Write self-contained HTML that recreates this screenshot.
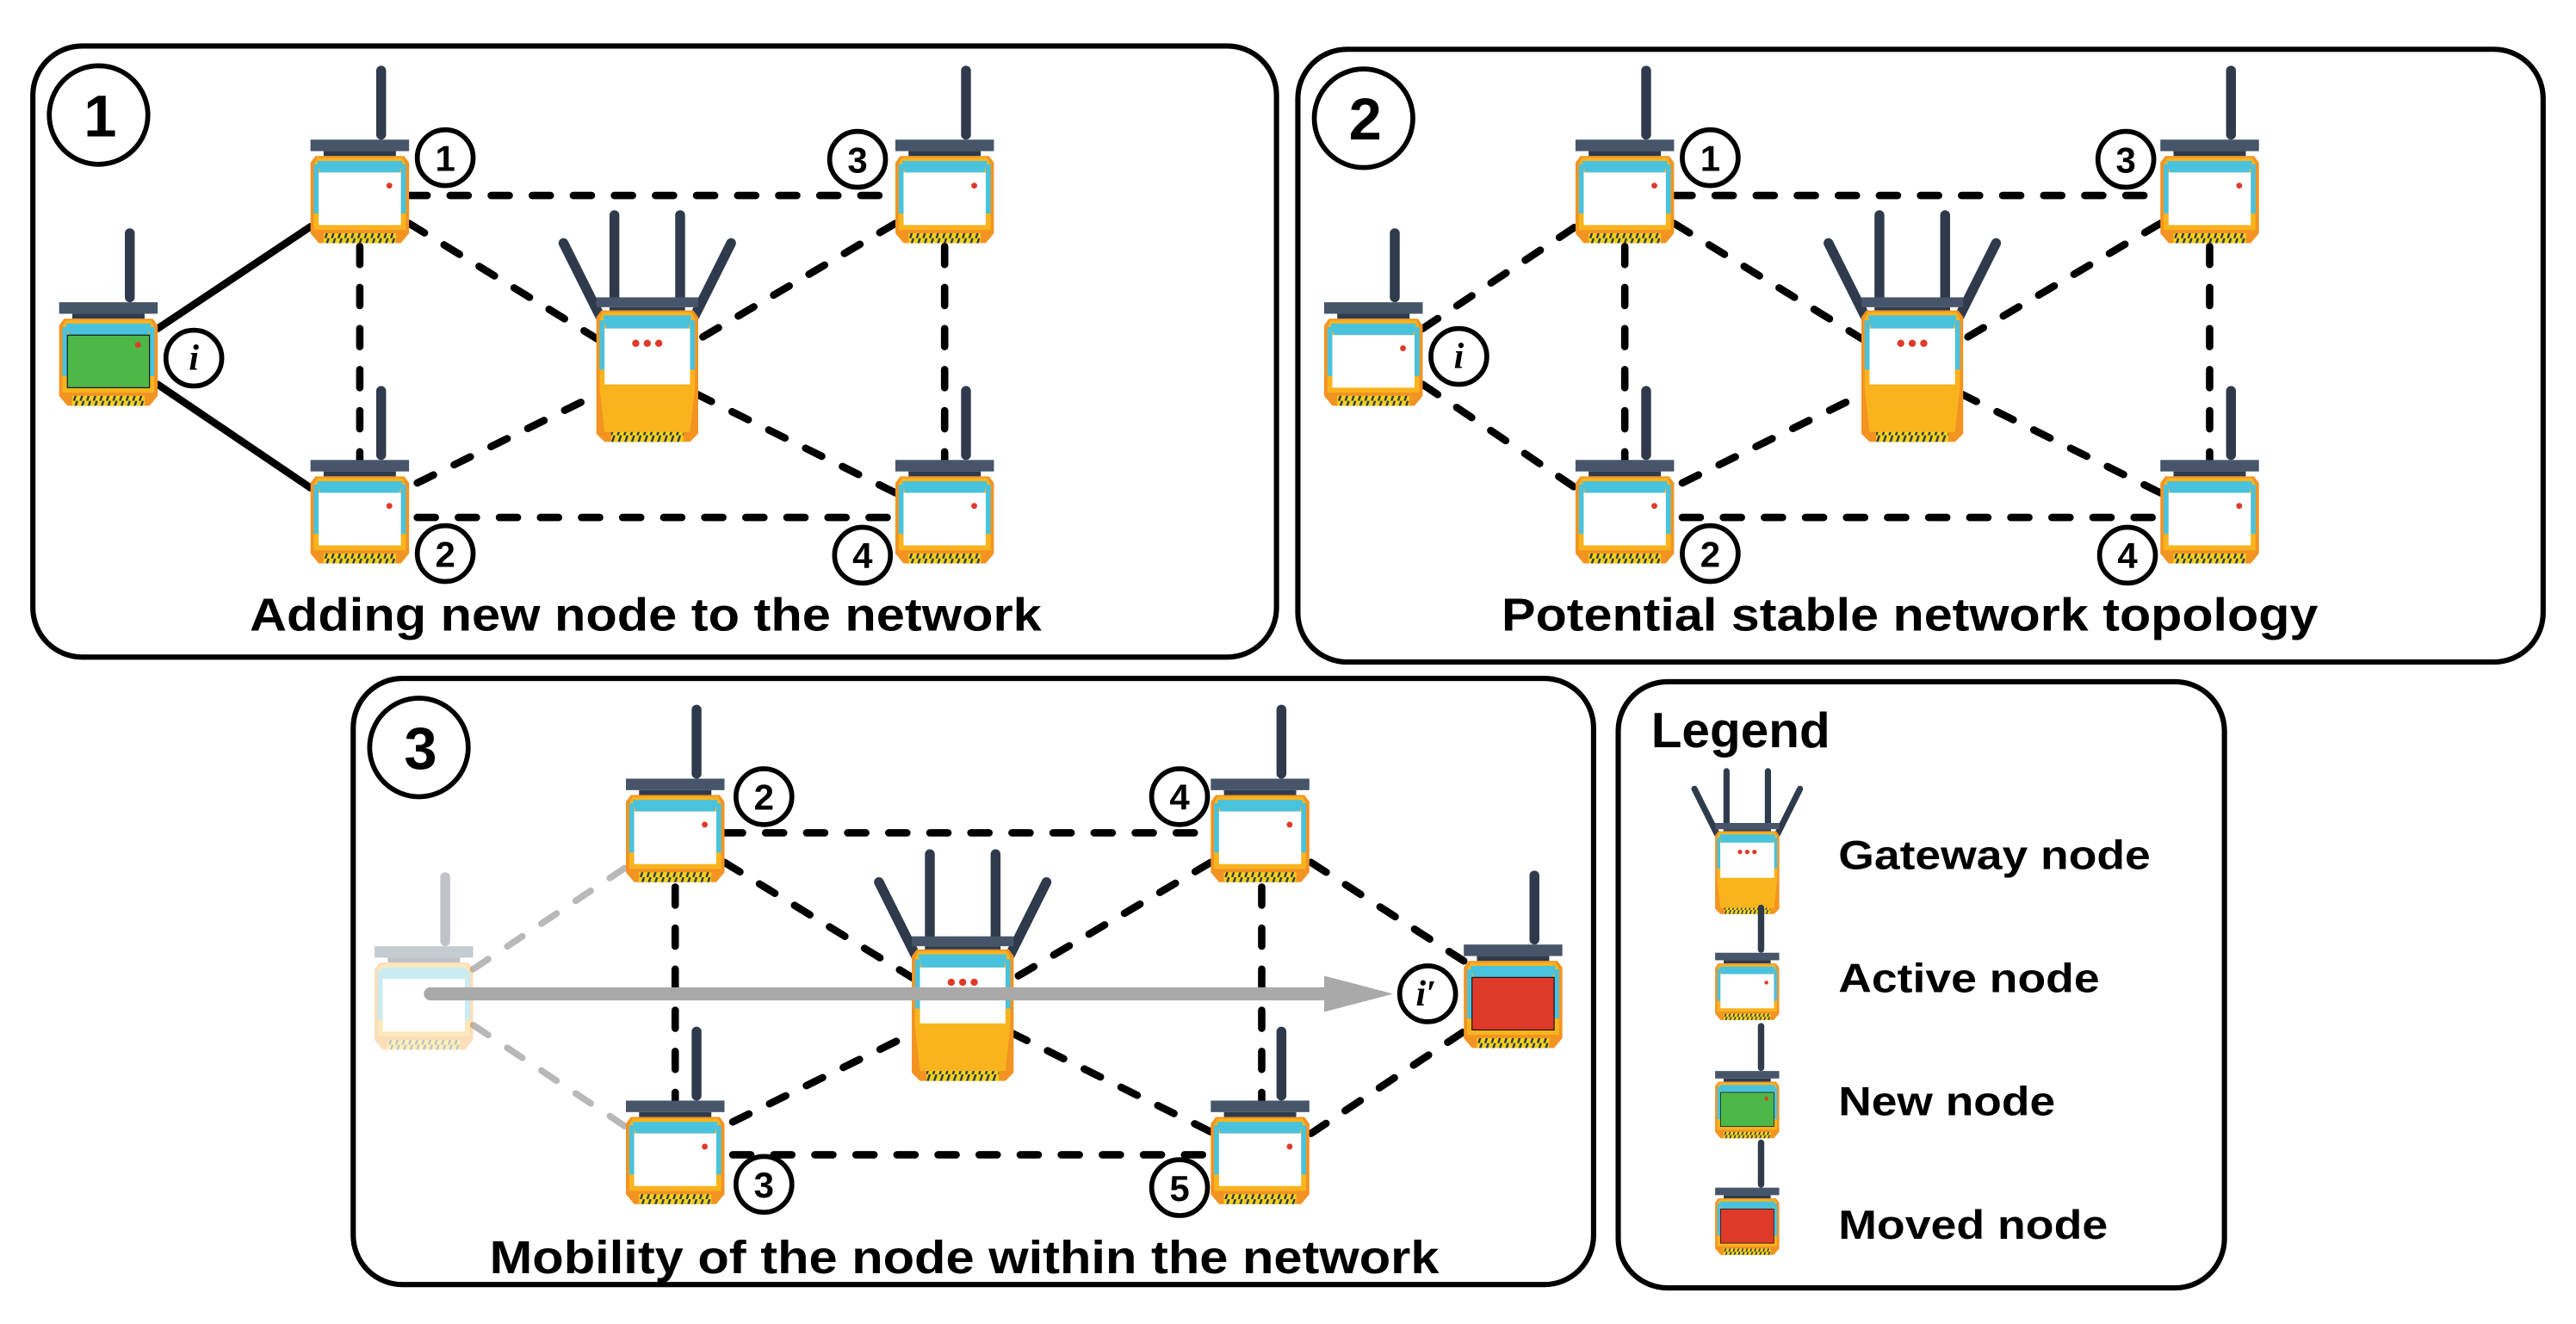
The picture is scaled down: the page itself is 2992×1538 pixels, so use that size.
<!DOCTYPE html>
<html><head><meta charset="utf-8"><style>
html,body{margin:0;padding:0;background:#fff;}
svg{display:block;}
text{font-family:"Liberation Sans",sans-serif;font-weight:bold;fill:#000;}
</style></head><body>
<svg width="2992" height="1538" viewBox="0 0 1568 806" xmlns="http://www.w3.org/2000/svg">
<defs>
<pattern id="hz" width="4" height="6" patternUnits="userSpaceOnUse">
<rect width="4" height="6" fill="#f5d21a"/><path d="M1,6 L3,0" stroke="#2f3b4c" stroke-width="1.3"/>
</pattern>
<g id="body">
<rect x="40" y="-45" width="6" height="45" rx="3" fill="#2f3b4c"/>
<rect x="0" y="0" width="60" height="7" fill="#465569"/>
<rect x="8" y="7" width="44" height="3" fill="#2f3b4c"/>
<path d="M3,10 L57,10 L60,14 L60,57 L55,63 L5,63 L0,57 L0,14 Z" fill="#f39322"/>
<path d="M4,11 L56,11 L58,15 L58,55 L5,55 L2,55 L2,15 Z" fill="#f9b41d"/>
<path d="M4,13 L56,13 L54,20 L6,20 Z" fill="#49c2de"/>
<rect x="2" y="15" width="3" height="30" fill="#49c2de"/>
<rect x="55" y="15" width="3" height="30" fill="#49c2de"/>
<rect x="8" y="57" width="44" height="6" fill="url(#hz)"/>
</g>
<g id="active"><use href="#body"/><rect x="5" y="20" width="50" height="32" fill="#fff"/><circle cx="48" cy="28" r="1.8" fill="#e03a2a"/></g>
<g id="newn"><use href="#body"/><rect x="5" y="20" width="50" height="32" fill="#4db748" stroke="#111" stroke-width="0.6"/><circle cx="48" cy="26" r="1.8" fill="#e03a2a"/></g>
<g id="moved"><use href="#body"/><rect x="5" y="20" width="50" height="32" fill="#dd3a2a" stroke="#111" stroke-width="0.6"/></g>
<g id="gw">
<line x1="11" y1="-50" x2="11" y2="2" stroke="#2f3b4c" stroke-width="6" stroke-linecap="round"/>
<line x1="51" y1="-50" x2="51" y2="2" stroke="#2f3b4c" stroke-width="6" stroke-linecap="round"/>
<line x1="-20" y1="-33" x2="2" y2="11" stroke="#2f3b4c" stroke-width="6" stroke-linecap="round"/>
<line x1="82" y1="-33" x2="60" y2="11" stroke="#2f3b4c" stroke-width="6" stroke-linecap="round"/>
<rect x="0" y="0" width="62" height="6" fill="#465569"/>
<rect x="8" y="6" width="46" height="2" fill="#2f3b4c"/>
<path d="M3,8 L59,8 L62,12 L62,83 L57,88 L5,88 L0,83 L0,12 Z" fill="#f39322"/>
<path d="M4,9 L58,9 L60,13 L60,55 L57,82 L5,82 L2,55 L2,13 Z" fill="#f9b41d"/>
<path d="M4,11 L58,11 L56,19 L6,19 Z" fill="#49c2de"/>
<rect x="2" y="14" width="3" height="30" fill="#49c2de"/>
<rect x="57" y="14" width="3" height="30" fill="#49c2de"/>
<rect x="5" y="19" width="52" height="34" fill="#fff"/>
<circle cx="24" cy="28" r="2.2" fill="#e03a2a"/><circle cx="31" cy="28" r="2.2" fill="#e03a2a"/><circle cx="38" cy="28" r="2.2" fill="#e03a2a"/>
<rect x="9" y="82" width="44" height="6" fill="url(#hz)"/>
</g>
</defs>

<!-- Panel boxes -->
<g fill="none" stroke="#000" stroke-width="3.2">
<rect x="20" y="28" width="757" height="372" rx="30"/>
<rect x="790" y="30" width="758" height="373" rx="30"/>
<rect x="215" y="413" width="755" height="369" rx="30"/>
<rect x="985" y="415" width="369" height="369" rx="30"/>
</g>

<!-- Panel 1 lines -->
<g stroke="#000" stroke-width="4.5" stroke-linecap="round" fill="none">
<line x1="96" y1="200" x2="189" y2="138"/>
<line x1="96" y1="234" x2="189" y2="297"/>
<g stroke-dasharray="11 14">
<line x1="249" y1="119" x2="545" y2="119"/>
<line x1="254" y1="315" x2="545" y2="315"/>
<line x1="219" y1="150" x2="219" y2="282"/>
<line x1="575" y1="150" x2="575" y2="282"/>
<line x1="249" y1="136" x2="394" y2="225"/>
<line x1="254" y1="294" x2="394" y2="225"/>
<line x1="545" y1="136" x2="394" y2="225"/>
<line x1="545" y1="300" x2="394" y2="225"/>
</g>
</g>
<!-- Panel 2 lines -->
<g stroke="#000" stroke-width="4.5" stroke-linecap="round" fill="none" stroke-dasharray="11 14">
<line x1="866" y1="200" x2="959" y2="138"/>
<line x1="866" y1="234" x2="959" y2="297"/>
<line x1="1019" y1="119" x2="1315" y2="119"/>
<line x1="1024" y1="315" x2="1315" y2="315"/>
<line x1="989" y1="150" x2="989" y2="282"/>
<line x1="1345" y1="150" x2="1345" y2="282"/>
<line x1="1019" y1="136" x2="1164" y2="225"/>
<line x1="1024" y1="294" x2="1164" y2="225"/>
<line x1="1315" y1="136" x2="1164" y2="225"/>
<line x1="1315" y1="300" x2="1164" y2="225"/>
</g>
<!-- Panel 3 lines -->
<g stroke="#000" stroke-width="4.5" stroke-linecap="round" fill="none" stroke-dasharray="11 14">
<line x1="441" y1="507" x2="737" y2="507"/>
<line x1="446" y1="703" x2="737" y2="703"/>
<line x1="411" y1="540" x2="411" y2="672"/>
<line x1="768" y1="540" x2="768" y2="672"/>
<line x1="441" y1="525" x2="586" y2="614"/>
<line x1="446" y1="683" x2="586" y2="614"/>
<line x1="737" y1="525" x2="586" y2="614"/>
<line x1="737" y1="689" x2="586" y2="614"/>
<line x1="798" y1="525" x2="891" y2="585"/>
<line x1="798" y1="690" x2="891" y2="628"/>
</g>
<g stroke="#b8b8b8" stroke-width="4" stroke-linecap="round" fill="none" stroke-dasharray="11 14">
<line x1="288" y1="590" x2="381" y2="528"/>
<line x1="288" y1="624" x2="381" y2="686"/>
</g>

<!-- Panel 1 nodes -->
<use href="#newn" x="36" y="184"/>
<use href="#active" x="189" y="85"/>
<use href="#active" x="545" y="85"/>
<use href="#active" x="189" y="280"/>
<use href="#active" x="545" y="280"/>
<use href="#gw" x="363" y="181"/>
<!-- Panel 2 nodes -->
<use href="#active" x="806" y="184"/>
<use href="#active" x="959" y="85"/>
<use href="#active" x="1315" y="85"/>
<use href="#active" x="959" y="280"/>
<use href="#active" x="1315" y="280"/>
<use href="#gw" x="1133" y="181"/>
<!-- Panel 3 nodes -->
<g opacity="0.3"><use href="#active" x="228" y="576"/></g>
<use href="#active" x="381" y="474"/>
<use href="#active" x="737" y="474"/>
<use href="#active" x="381" y="670"/>
<use href="#active" x="737" y="670"/>
<use href="#gw" x="555" y="570"/>
<use href="#moved" x="891" y="575"/>
<!-- arrow -->
<line x1="262" y1="605" x2="810" y2="605" stroke="#a9a9a9" stroke-width="8" stroke-linecap="round"/>
<path d="M806,594 L848,605 L806,616 Z" fill="#a9a9a9"/>

<!-- Label circles -->
<g fill="#fff" stroke="#000" stroke-width="3">
<ellipse cx="60" cy="70" rx="30" ry="30"/>
<ellipse cx="830" cy="72" rx="30" ry="30"/>
<ellipse cx="255" cy="455" rx="30" ry="30"/>
<circle cx="271" cy="96" r="17"/><circle cx="522" cy="97" r="17"/><circle cx="271" cy="337" r="17"/><circle cx="525" cy="338" r="17"/><circle cx="118" cy="218" r="17"/>
<circle cx="1041" cy="96" r="17"/><circle cx="1294" cy="97" r="17"/><circle cx="1041" cy="337" r="17"/><circle cx="1295" cy="338" r="17"/><circle cx="888" cy="217" r="17"/>
<circle cx="465" cy="485" r="17"/><circle cx="718" cy="485" r="17"/><circle cx="465" cy="721" r="17"/><circle cx="718" cy="723" r="17"/><circle cx="869" cy="605" r="17"/>
</g>
<g font-size="36" text-anchor="middle">
<text x="61" y="83">1</text><text x="831" y="85">2</text><text x="256" y="468">3</text>
</g>
<g font-size="22" text-anchor="middle">
<text x="271" y="104">1</text><text x="522" y="105">3</text><text x="271" y="345">2</text><text x="525" y="346">4</text>
<text x="1041" y="104">1</text><text x="1294" y="105">3</text><text x="1041" y="345">2</text><text x="1295" y="346">4</text>
<text x="465" y="493">2</text><text x="718" y="493">4</text><text x="465" y="729">3</text><text x="718" y="731">5</text>
</g>
<g font-size="22" text-anchor="middle" font-style="italic" style="font-family:'Liberation Serif',serif">
<text x="118" y="225" style="font-family:'Liberation Serif',serif">i</text>
<text x="888" y="224" style="font-family:'Liberation Serif',serif">i</text>
<text x="868" y="612" style="font-family:'Liberation Serif',serif">i′</text>
</g>

<!-- Titles -->
<g font-size="28">
<text x="152" y="384" textLength="482" lengthAdjust="spacingAndGlyphs">Adding new node to the network</text>
<text x="914" y="384" textLength="497" lengthAdjust="spacingAndGlyphs">Potential stable network topology</text>
<text x="298" y="775" textLength="578" lengthAdjust="spacingAndGlyphs">Mobility of the node within the network</text>
</g>

<!-- Legend -->
<text x="1005" y="455" font-size="30" textLength="109" lengthAdjust="spacingAndGlyphs">Legend</text>
<g transform="translate(1044,501) scale(0.63)"><use href="#gw"/></g>
<g transform="translate(1044,580) scale(0.65)"><use href="#active"/></g>
<g transform="translate(1044,652) scale(0.65)"><use href="#newn"/></g>
<g transform="translate(1044,723) scale(0.65)"><use href="#moved"/></g>
<g font-size="25">
<text x="1119" y="529" textLength="190" lengthAdjust="spacingAndGlyphs">Gateway node</text>
<text x="1119" y="604" textLength="159" lengthAdjust="spacingAndGlyphs">Active node</text>
<text x="1119" y="679" textLength="132" lengthAdjust="spacingAndGlyphs">New node</text>
<text x="1119" y="754" textLength="164" lengthAdjust="spacingAndGlyphs">Moved node</text>
</g>
</svg>
</body></html>
